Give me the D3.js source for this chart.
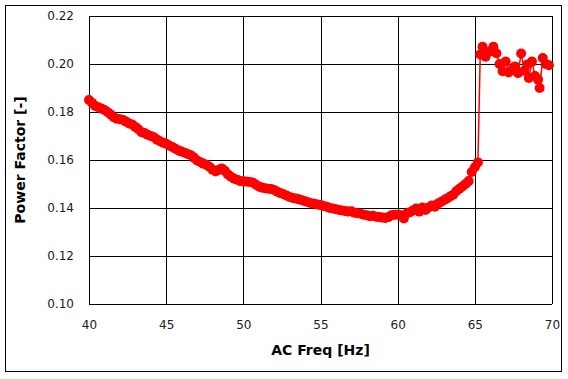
<!DOCTYPE html>
<html>
<head>
<meta charset="utf-8">
<script src="https://cdn.jsdelivr.net/npm/d3@7"></script>
<style>
html,body{margin:0;padding:0;background:#fff;}
svg{display:block;}
</style>
</head>
<body>
<svg id="chart" width="568" height="379"></svg>
<script>
// ---- data ----
const freq = [
  40.0,40.2,40.4,40.6,40.8,41.0,41.2,41.4,41.6,41.8,
  42.0,42.2,42.4,42.6,42.8,43.0,43.2,43.4,43.6,43.8,
  44.0,44.2,44.4,44.6,44.8,45.0,45.2,45.4,45.6,45.8,
  46.0,46.2,46.4,46.6,46.8,47.0,47.2,47.4,47.6,47.8,
  48.0,48.2,48.4,48.6,48.8,49.0,49.2,49.4,49.6,49.8,
  50.0,50.2,50.4,50.6,50.8,51.0,51.2,51.4,51.6,51.8,
  52.0,52.2,52.4,52.6,52.8,53.0,53.2,53.4,53.6,53.8,
  54.0,54.2,54.4,54.6,54.8,55.0,55.2,55.4,55.6,55.8,
  56.0,56.2,56.4,56.6,56.8,57.0,57.2,57.4,57.6,57.8,
  58.0,58.2,58.4,58.6,58.8,59.0,59.2,59.4,59.6,59.8,
  60.0,60.2,60.4,60.6,60.8,61.0,61.2,61.4,61.6,61.8,
  62.0,62.2,62.4,62.6,62.8,63.0,63.2,63.4,63.6,63.8,
  64.0,64.2,64.4,64.6,64.8,65.0,65.2,
  65.35,65.5,65.7,65.9,66.2,66.4,66.6,66.8,67.0,67.2,
  67.4,67.6,67.8,68.0,68.2,68.4,68.5,68.7,68.9,69.1,
  69.2,69.4,69.6,69.8
];
const powerFactor = [
  0.1850,0.1838,0.1825,0.1820,0.1815,0.1808,0.1800,0.1790,0.1778,0.1772,
  0.1770,0.1767,0.1760,0.1752,0.1748,0.1738,0.1728,0.1716,0.1712,0.1705,
  0.1700,0.1695,0.1685,0.1678,0.1672,0.1668,0.1660,0.1654,0.1647,0.1640,
  0.1635,0.1630,0.1625,0.1620,0.1610,0.1598,0.1592,0.1585,0.1580,0.1572,
  0.1560,0.1552,0.1558,0.1565,0.1555,0.1540,0.1530,0.1522,0.1518,0.1512,
  0.1510,0.1510,0.1508,0.1506,0.1498,0.1490,0.1485,0.1482,0.1480,0.1479,
  0.1475,0.1468,0.1462,0.1457,0.1452,0.1446,0.1442,0.1440,0.1436,0.1432,
  0.1428,0.1424,0.1420,0.1418,0.1415,0.1412,0.1408,0.1405,0.1400,0.1398,
  0.1395,0.1392,0.1390,0.1388,0.1385,0.1386,0.1380,0.1378,0.1376,0.1372,
  0.1370,0.1366,0.1368,0.1364,0.1362,0.1360,0.1358,0.1362,0.1370,0.1372,
  0.1372,0.1370,0.1356,0.1378,0.1382,0.1390,0.1398,0.1385,0.1402,0.1392,
  0.1402,0.1410,0.1405,0.1418,0.1425,0.1432,0.1440,0.1448,0.1455,0.1470,
  0.1480,0.1490,0.1500,0.1512,0.1550,0.1570,0.1590,
  0.2040,0.2072,0.2030,0.2050,0.2072,0.2045,0.2000,0.1970,0.2010,0.1965,
  0.1975,0.1990,0.1962,0.2044,0.1972,0.1998,0.1942,0.2010,0.1950,0.1935,
  0.1900,0.2025,0.2000,0.1995
];
const xTicks = [40,45,50,55,60,65,70];
const yTicks = [0.10,0.12,0.14,0.16,0.18,0.20,0.22];

const W = 568, H = 379;
const plot = {left: 89, right: 552, top: 16, bottom: 304};
const svg = d3.select("#chart");

// outer frame
svg.append("rect").attr("x",5.5).attr("y",5.5).attr("width",556).attr("height",366)
  .attr("fill","#fff").attr("stroke","#000").attr("stroke-width",1);

const x = d3.scaleLinear().domain([40,70]).range([plot.left, plot.right]);
const y = d3.scaleLinear().domain([0.10,0.22]).range([plot.bottom, plot.top]);

// grid
const g = svg.append("g");
g.selectAll("line.v").data(xTicks).join("line")
  .attr("x1",d=>Math.round(x(d))+0.5).attr("x2",d=>Math.round(x(d))+0.5)
  .attr("y1",plot.top).attr("y2",plot.bottom)
  .attr("stroke","#000").attr("stroke-width",1);
g.selectAll("line.h").data(yTicks).join("line")
  .attr("y1",d=>Math.round(y(d))+0.5).attr("y2",d=>Math.round(y(d))+0.5)
  .attr("x1",plot.left).attr("x2",plot.right)
  .attr("stroke","#000").attr("stroke-width",1);

// axes labels via d3 axes
const xAxis = d3.axisBottom(x).tickValues(xTicks).tickSize(0).tickPadding(16).tickFormat(d3.format("d"));
const yAxis = d3.axisLeft(y).tickValues(yTicks).tickSize(0).tickPadding(15).tickFormat(d3.format(".2f"));
const gx = svg.append("g").attr("transform",`translate(0,${plot.bottom})`).call(xAxis);
const gy = svg.append("g").attr("transform",`translate(${plot.left},0)`).call(yAxis);
[gx,gy].forEach(a=>{
  a.select(".domain").remove();
  a.selectAll("text").attr("font-family","DejaVu Sans").attr("font-size",12).attr("fill","#1a1a2a");
});

// data line
const pts = freq.map((f,i)=>({f, v: powerFactor[i]}));
svg.append("path").datum(pts)
  .attr("fill","none").attr("stroke","#ff0000").attr("stroke-width",1.5)
  .attr("d", d3.line().x(d=>x(d.f)).y(d=>y(d.v)));
svg.append("g").selectAll("circle").data(pts).join("circle")
  .attr("cx",d=>x(d.f)).attr("cy",d=>y(d.v)).attr("r",5)
  .attr("fill","#ff0000");

// titles
svg.append("text").attr("x",(plot.left+plot.right)/2).attr("y",355)
  .attr("text-anchor","middle").attr("font-family","DejaVu Sans").attr("font-weight","bold")
  .attr("font-size",14).attr("fill","#000").text("AC Freq [Hz]");
svg.append("text").attr("transform",`translate(25,${(plot.top+plot.bottom)/2}) rotate(-90)`)
  .attr("text-anchor","middle").attr("font-family","DejaVu Sans").attr("font-weight","bold")
  .attr("font-size",14).attr("fill","#000").text("Power Factor [-]");
</script>
</body>
</html>
